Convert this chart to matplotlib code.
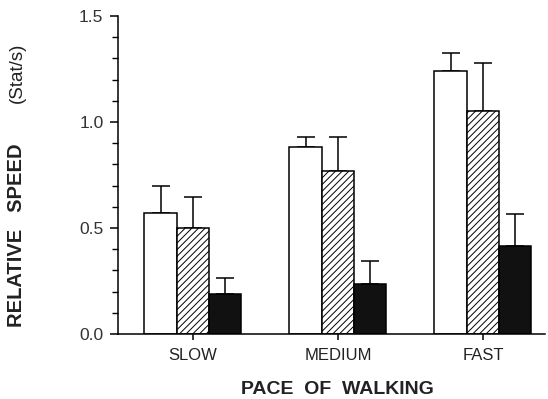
import numpy as np
import matplotlib
matplotlib.use('Agg')
import matplotlib.pyplot as plt
from matplotlib.ticker import MultipleLocator

plt.rcParams['font.family'] = ['Liberation Sans', 'DejaVu Sans']
plt.rcParams['hatch.linewidth'] = 0.7

paces = ['SLOW', 'MEDIUM', 'FAST']
# three conditions per pace: open, hatched, solid
open_mean = [0.57, 0.88, 1.24]
open_err = [0.13, 0.05, 0.085]
hatch_mean = [0.50, 0.77, 1.05]
hatch_err = [0.145, 0.16, 0.23]
solid_mean = [0.19, 0.235, 0.415]
solid_err = [0.075, 0.11, 0.15]

fig = plt.figure(figsize=(5.48, 3.99), dpi=100)
ax = fig.add_axes([118/548, 1-334/399, 427/548, 318/399])

x = np.arange(len(paces))
w = 0.223
lw = 1.1
ax.bar(x - w, open_mean, width=w, color='white', edgecolor='black', linewidth=lw, zorder=2)
ax.bar(x, hatch_mean, width=w, color='white', edgecolor='black', linewidth=lw, hatch='/////', zorder=2)
ax.bar(x + w, solid_mean, width=w, color='#111111', edgecolor='black', linewidth=lw, zorder=2)

for xs, m, e in [(x - w, open_mean, open_err), (x, hatch_mean, hatch_err), (x + w, solid_mean, solid_err)]:
    ax.errorbar(xs, m, yerr=[np.zeros(len(m)), e], fmt='none', ecolor='black',
                elinewidth=lw, capsize=6.8, capthick=lw, zorder=1)

ax.set_xlim(-0.517, 2.428)
ax.set_ylim(0, 1.5)
ax.spines['top'].set_visible(False)
ax.spines['right'].set_visible(False)
ax.spines['left'].set_linewidth(1.1)
ax.spines['bottom'].set_linewidth(1.1)

ax.set_yticks([0.0, 0.5, 1.0, 1.5])
ax.set_yticklabels(['0.0', '0.5', '1.0', '1.5'])
ax.yaxis.set_minor_locator(MultipleLocator(0.1))
ax.tick_params(axis='y', which='major', length=5.5, width=1.1, labelsize=12.5, labelcolor='#333333', pad=5)
ax.tick_params(axis='y', which='minor', length=4, width=1.0)
ax.set_xticks(x)
ax.set_xticklabels(paces)
ax.tick_params(axis='x', length=4, width=1.1, labelsize=12, labelcolor='#222222', pad=6)

fig.text(337/548, 1-390/399, 'PACE  OF  WALKING', ha='center', va='center',
         fontsize=14, fontweight='bold', color='#222222')
fig.text(17/548, 1-327/399, 'RELATIVE   SPEED', rotation=90, ha='center', va='bottom',
         fontsize=14.5, fontweight='bold', color='#222222')
fig.text(17/548, 1-43/399, '(Stat/s)', rotation=90, ha='center', va='top',
         fontsize=13.5, color='#222222')

fig.savefig('out.png', dpi=100)
